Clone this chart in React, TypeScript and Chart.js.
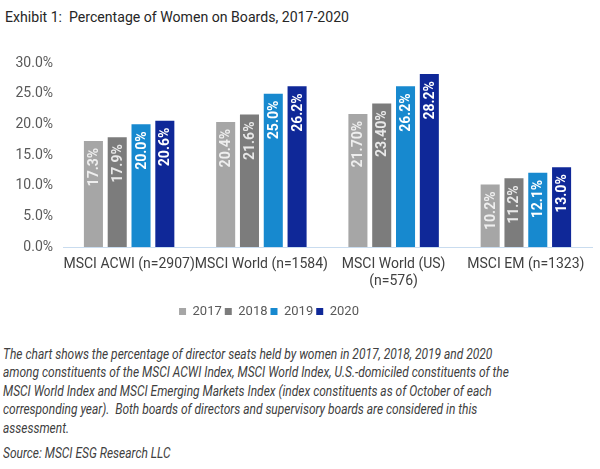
import React, { useEffect, useRef } from "react";
import { Chart, registerables } from "chart.js";

Chart.register(...registerables);

const categories: string[][] = [
  ["MSCI ACWI (n=2907)"],
  ["MSCI World (n=1584)"],
  ["MSCI World (US)", "(n=576)"],
  ["MSCI EM (n=1323)"],
];
const years = ["2017", "2018", "2019", "2020"];
const v2017 = [17.3, 20.4, 21.7, 10.2];
const v2018 = [17.9, 21.6, 23.4, 11.2];
const v2019 = [20.0, 25.0, 26.2, 12.1];
const v2020 = [20.6, 26.2, 28.2, 13.0];
const l2017 = ["17.3%", "20.4%", "21.70%", "10.2%"];
const l2018 = ["17.9%", "21.6%", "23.40%", "11.2%"];
const l2019 = ["20.0%", "25.0%", "26.2%", "12.1%"];
const l2020 = ["20.6%", "26.2%", "28.2%", "13.0%"];
const yTicks = [0, 5, 10, 15, 20, 25, 30];

const colors = ["#a6a6a6", "#7c7c7c", "#1789cf", "#0f2898"];
const labelColors = ["#eeeeee", "#e8e8e8", "#ffffff", "#ffffff"];

const captionLines = [
  "The chart shows the percentage of director seats held by women in 2017, 2018, 2019 and 2020",
  "among constituents of the MSCI ACWI Index, MSCI World Index, U.S.-domiciled constituents of the",
  "MSCI World Index and MSCI Emerging Markets Index (index constituents as of October of each",
  "corresponding year).  Both boards of directors and supervisory boards are considered in this",
  "assessment.",
];
const sourceText = "Source: MSCI ESG Research LLC";

const barLabelPlugin = {
  id: "barLabels",
  afterDatasetsDraw(chart: any) {
    const ctx = chart.ctx;
    chart.data.datasets.forEach((ds: any, di: number) => {
      const meta = chart.getDatasetMeta(di);
      meta.data.forEach((el: any, i: number) => {
        ctx.save();
        ctx.translate(el.x, el.y + 7);
        ctx.rotate(-Math.PI / 2);
        ctx.textAlign = "right";
        ctx.textBaseline = "middle";
        ctx.font = "bold 14px Roboto";
        ctx.fillStyle = labelColors[di];
        ctx.fillText(ds.labelsText[i], 0, 1);
        ctx.restore();
      });
    });
  },
};

const legendShiftPlugin = {
  id: "legendShift",
  afterLayout(chart: any) {
    const lg = chart.legend;
    if (lg) {
      lg.left -= 27;
      lg.right -= 27;
    }
  },
};

export default function App() {
  const ref = useRef<HTMLCanvasElement | null>(null);
  useEffect(() => {
    if (!ref.current) return;
    const values = [v2017, v2018, v2019, v2020];
    const texts = [l2017, l2018, l2019, l2020];
    const chart = new Chart(ref.current, {
      type: "bar",
      data: {
        labels: categories,
        datasets: years.map((y, i) => ({
          label: y,
          data: values[i],
          labelsText: texts[i],
          backgroundColor: colors[i],
          borderColor: "#ffffff",
          borderWidth: 0,
          categoryPercentage: 0.72,
          barPercentage: 0.8,
        })) as any,
      },
      options: {
        animation: false,
        responsive: false,
        devicePixelRatio: 1,
        layout: { padding: { top: 23, right: 8, left: 0, bottom: 2 } },
        plugins: {
          title: { display: false },
          tooltip: { enabled: false },
          legend: {
            position: "bottom",
            labels: {
              boxWidth: 7,
              boxHeight: 7,
              color: "#595959",
              font: { family: "Roboto", size: 13 },
              padding: 3,
            },
          },
        },
        scales: {
          x: {
            grid: { display: false, drawTicks: false },
            border: { display: true, color: "#c9dcef", width: 1 },
            ticks: {
              color: "#404040",
              font: { family: "Roboto", size: 14 },
              maxRotation: 0,
              autoSkip: false,
              padding: 9,
            },
            afterFit: (s: any) => {
              s.height = 55;
            },
          },
          y: {
            min: 0,
            max: 30,
            grid: { display: false, drawTicks: false },
            border: { display: false },
            afterBuildTicks: (s: any) => {
              s.ticks = yTicks.map((v) => ({ value: v }));
            },
            ticks: {
              color: "#595959",
              font: { family: "Roboto", size: 14 },
              padding: 10,
              callback: (v: any) => Number(v).toFixed(1) + "%",
            },
            afterFit: (s: any) => {
              s.width = 63;
            },
          },
        },
      },
      plugins: [barLabelPlugin, legendShiftPlugin],
    });
    return () => chart.destroy();
  }, []);

  return (
    <div
      style={{
        position: "absolute",
        left: 0,
        top: 0,
        width: 600,
        height: 469,
        background: "#ffffff",
        fontFamily: "Roboto",
        overflow: "hidden",
      }}
    >
      <div
        style={{
          position: "absolute",
          left: 5,
          top: 8,
          fontSize: 15.5,
          lineHeight: "18px",
          color: "#262626",
          whiteSpace: "pre",
          transform: "scaleX(0.91)",
          transformOrigin: "left top",
        }}
      >
        {"Exhibit 1:  Percentage of Women on Boards, 2017-2020"}
      </div>
      <canvas
        ref={ref}
        width={600}
        height={290}
        style={{ position: "absolute", left: 0, top: 40, width: 600, height: 290 }}
      />
      <div
        style={{
          position: "absolute",
          left: 3,
          top: 345,
          fontSize: 14,
          lineHeight: "18.4px",
          fontStyle: "italic",
          color: "#404040",
          transform: "scaleX(0.855)",
          transformOrigin: "left top",
        }}
      >
        {captionLines.map((l, i) => (
          <div key={i} style={{ whiteSpace: "pre" }}>
            {l}
          </div>
        ))}
        <div style={{ whiteSpace: "pre", marginTop: 7 }}>{sourceText}</div>
      </div>
    </div>
  );
}
